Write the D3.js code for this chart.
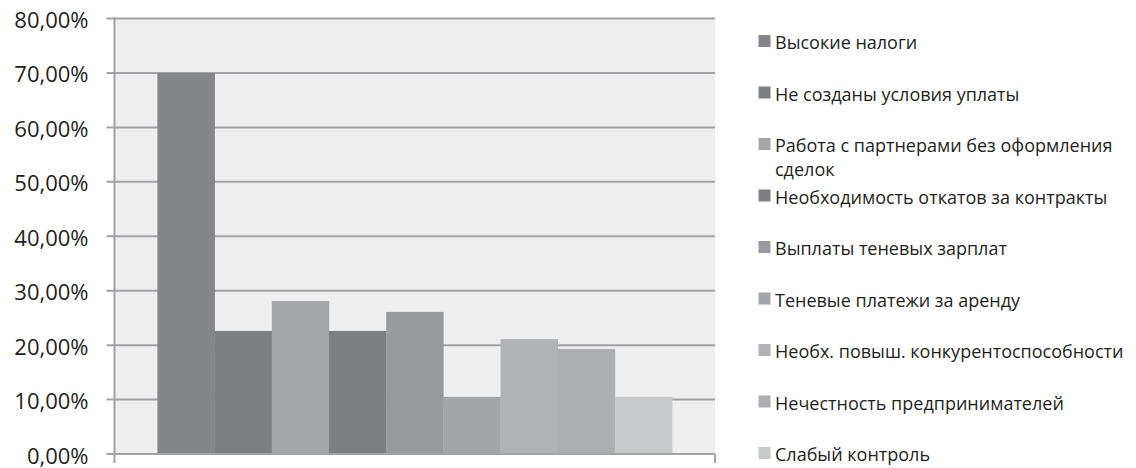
<!DOCTYPE html>
<html><head><meta charset="utf-8">
<script src="https://cdn.jsdelivr.net/npm/d3@7"></script>
<style>html,body{margin:0;padding:0;background:#fff;}svg{display:block;}</style>
</head><body><svg id="c" width="1136" height="468"></svg>
<script>
const seriesNames = [
  "Высокие налоги",
  "Не созданы условия уплаты",
  "Работа с партнерами без оформления сделок",
  "Необходимость откатов за контракты",
  "Выплаты теневых зарплат",
  "Теневые платежи за аренду",
  "Необх. повыш. конкурентоспособности",
  "Нечестность предпринимателей",
  "Слабый контроль"
];
const values = [0.70, 0.226, 0.281, 0.226, 0.261, 0.105, 0.211, 0.193, 0.105];
const colors = ["#858689","#7e7f83","#a5a6a9","#7e7f83","#999a9e","#a4a5a8","#b1b2b5","#adaeb1","#c8c9cb"];
const yTicks = [0,0.1,0.2,0.3,0.4,0.5,0.6,0.7,0.8];
const legendLines = [
  ["Высокие налоги"],
  ["Не созданы условия уплаты"],
  ["Работа с партнерами без оформления","сделок"],
  ["Необходимость откатов за контракты"],
  ["Выплаты теневых зарплат"],
  ["Теневые платежи за аренду"],
  ["Необх. повыш. конкурентоспособности"],
  ["Нечестность предпринимателей"],
  ["Слабый контроль"]
];

const svg = d3.select("#c");
const L = 114.5, R = 715, T = 18.5, B = 454;
const font = "'Open Sans', 'Noto Sans', sans-serif";
const y = d3.scaleLinear().domain([0,0.8]).range([B,T]);
const x0 = d3.scaleBand().domain(["g"]).range([L,R]).paddingInner(0).paddingOuter(0.75/9);
const x1 = d3.scaleBand().domain(d3.range(values.length)).range([0,x0.bandwidth()]).padding(0);

svg.append("rect").attr("x",L).attr("y",T).attr("width",R-L).attr("height",B-T).attr("fill","#eeeeee");

// gridlines
svg.append("g").selectAll("line").data(yTicks.filter(d=>d>0)).join("line")
  .attr("x1",L-8).attr("x2",R).attr("y1",d=>y(d)).attr("y2",d=>y(d))
  .attr("stroke","#a2a2a6").attr("stroke-width",2);

// bars
svg.append("g").selectAll("rect").data(values).join("rect")
  .attr("x",(d,i)=>x0("g")+x1(i)).attr("width",x1.bandwidth()+0.3)
  .attr("y",d=>y(d)).attr("height",d=>B-y(d)).attr("fill",(d,i)=>colors[i]);

// axes
const ax = svg.append("g").attr("stroke","#a2a2a6").attr("stroke-width",2);
ax.append("line").attr("x1",L).attr("x2",L).attr("y1",T-1).attr("y2",B+9);
ax.append("line").attr("x1",L-8).attr("x2",R).attr("y1",B).attr("y2",B);
ax.append("line").attr("x1",R).attr("x2",R).attr("y1",B).attr("y2",B+9);

// y labels
const fmt = d => d3.format(".2f")(d*100).replace(".",",") + "%";
svg.append("g").selectAll("text").data(yTicks).join("text")
  .attr("x",88.5).attr("y",d=>y(d)+9.5).attr("text-anchor","end")
  .attr("font-family",font).attr("font-size",22).attr("fill","#231f20")
  .text(fmt);

// legend
const ly = i => 49 + i*51.5;
const lg = svg.append("g");
legendLines.forEach((lines,i)=>{
  lg.append("rect").attr("x",758.5).attr("y",ly(i)-14).attr("width",12).attr("height",12).attr("fill",colors[i]);
  const t = lg.append("text").attr("x",775).attr("y",ly(i))
    .attr("font-family",font).attr("font-size",18).attr("fill","#231f20");
  lines.forEach((s,j)=>t.append("tspan").attr("x",775).attr("dy",j?23.5:0).text(s));
});
</script></body></html>
